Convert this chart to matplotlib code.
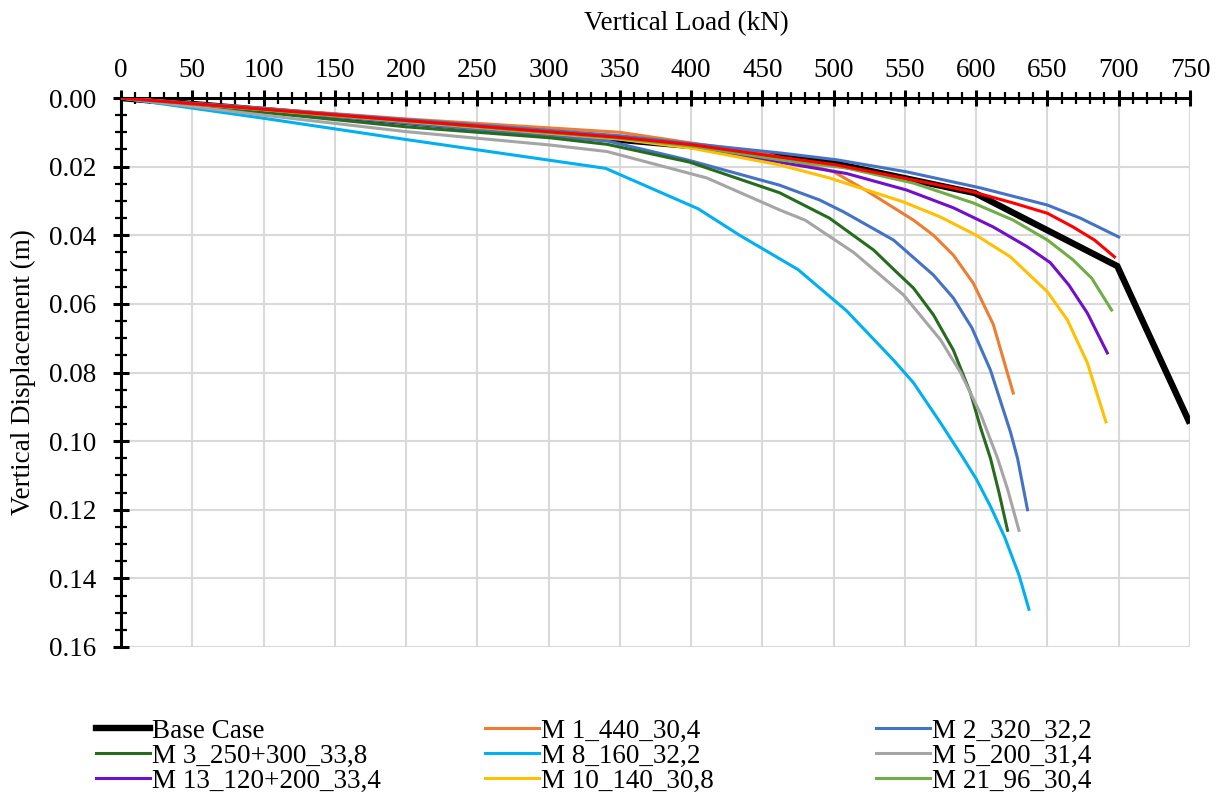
import numpy as np
import matplotlib
matplotlib.use("Agg")
import matplotlib.pyplot as plt
from matplotlib.ticker import MultipleLocator, FormatStrFormatter

plt.rcParams['font.family'] = ['Liberation Serif', 'DejaVu Serif']

# Load (kN) and vertical displacement (m) for each model
base_load = [0, 350, 400, 462, 502, 556, 599, 699, 749]
base_disp = [0, 0.0122, 0.0140, 0.0169, 0.0192, 0.0239, 0.0277, 0.0490, 0.0940]

m1_load = [0, 200, 350, 400, 450, 500, 523, 556, 570, 584, 598, 612, 626]
m1_disp = [0, 0.0061, 0.0100, 0.0131, 0.0160, 0.0215, 0.0270, 0.0356, 0.0400,
           0.0458, 0.0540, 0.0660, 0.0860]

m2_load = [0, 341, 397, 462, 490, 507, 542, 570, 584, 597, 610, 624, 629, 636]
m2_disp = [0, 0.0125, 0.0180, 0.0254, 0.0297, 0.0332, 0.0414, 0.0516, 0.0583,
           0.0670, 0.0793, 0.0973, 0.1050, 0.1200]

m2b_load = [0, 350, 400, 462, 502, 551, 603, 650, 673, 700]
m2b_disp = [0, 0.0110, 0.0133, 0.0160, 0.0180, 0.0215, 0.0262, 0.0312, 0.0350, 0.0405]

m3_load = [0, 200, 301, 341, 399, 462, 497, 528, 544, 556, 570, 584, 596, 603,
           610, 616, 622]
m3_disp = [0, 0.0084, 0.0116, 0.0135, 0.0187, 0.0276, 0.0350, 0.0443, 0.0507,
           0.0554, 0.0632, 0.0735, 0.0860, 0.0960, 0.1050, 0.1150, 0.1260]

m8_load = [0, 100, 200, 340, 405, 434, 475, 509, 542, 556, 575, 591, 600, 610,
           620, 630, 637]
m8_disp = [0, 0.0059, 0.0121, 0.0205, 0.0323, 0.0400, 0.0500, 0.0620, 0.0764,
           0.0830, 0.0947, 0.1050, 0.1110, 0.1190, 0.1280, 0.1390, 0.1490]

m5_load = [0, 100, 200, 301, 341, 411, 462, 480, 514, 549, 575, 589, 603, 615,
           622, 630]
m5_disp = [0, 0.0050, 0.0098, 0.0137, 0.0156, 0.0233, 0.0326, 0.0356, 0.0450,
           0.0574, 0.0705, 0.0800, 0.0920, 0.1050, 0.1140, 0.1260]

m13_load = [0, 350, 400, 462, 509, 551, 584, 612, 636, 652, 665, 678, 692]
m13_disp = [0, 0.0120, 0.0142, 0.0187, 0.0220, 0.0268, 0.0320, 0.0376, 0.0434,
            0.0480, 0.0545, 0.0627, 0.0743]

m10_load = [0, 350, 400, 462, 497, 549, 575, 600, 624, 650, 664, 678, 691]
m10_disp = [0, 0.0120, 0.0146, 0.0195, 0.0233, 0.0303, 0.0347, 0.0400, 0.0463,
            0.0565, 0.0647, 0.0772, 0.0944]

m21_load = [0, 350, 400, 462, 509, 556, 598, 626, 650, 668, 681, 695]
m21_disp = [0, 0.0118, 0.0140, 0.0180, 0.0204, 0.0248, 0.0306, 0.0356, 0.0414,
            0.0472, 0.0525, 0.0618]

red_load = [0, 350, 400, 462, 502, 556, 598, 626, 650, 668, 683, 697]
red_disp = [0, 0.0115, 0.0136, 0.0172, 0.0195, 0.0239, 0.0274, 0.0306, 0.0336,
            0.0376, 0.0414, 0.0463]

x_ticks = list(range(0, 751, 50))
y_ticks = [0.00, 0.02, 0.04, 0.06, 0.08, 0.10, 0.12, 0.14, 0.16]

series = [
    ("Base Case", base_load, base_disp, "#000000", 4.6),
    ("M 1_440_30,4", m1_load, m1_disp, "#ED7D31", 2.2),
    ("M 2_320_32,2", m2_load, m2_disp, "#4472C4", 2.2),
    ("M 3_250+300_33,8", m3_load, m3_disp, "#276B1F", 2.2),
    ("M 8_160_32,2", m8_load, m8_disp, "#00B0F0", 2.2),
    ("M 5_200_31,4", m5_load, m5_disp, "#A5A5A5", 2.2),
    ("M 13_120+200_33,4", m13_load, m13_disp, "#7010C8", 2.2),
    ("M 10_140_30,8", m10_load, m10_disp, "#FFC000", 2.2),
    ("M 21_96_30,4", m21_load, m21_disp, "#70AD47", 2.2),
]
extra = [
    (m2b_load, m2b_disp, "#4472C4", 2.2),
    (red_load, red_disp, "#FF0000", 2.2),
]

fig = plt.figure(figsize=(12.24, 7.96), dpi=100)
ax = fig.add_axes([121 / 1224, 1 - 647 / 796, 1069 / 1224, 549 / 796])

handles = []
for label, xs, ys, col, lw in series:
    h, = ax.plot(xs, ys, color=col, lw=lw, solid_joinstyle='miter', label=label, zorder=3)
    handles.append(h)
for xs, ys, col, lw in extra:
    ax.plot(xs, ys, color=col, lw=lw, zorder=3)

ax.set_xlim(0, 750)
ax.set_ylim(0.16, 0)
ax.set_xticks(x_ticks)
ax.set_yticks(y_ticks)
ax.xaxis.set_minor_locator(MultipleLocator(10))
ax.yaxis.set_minor_locator(MultipleLocator(0.005))
ax.yaxis.set_major_formatter(FormatStrFormatter('%.2f'))
ax.xaxis.tick_top()
ax.xaxis.set_label_position('top')

for side in ('right', 'bottom'):
    ax.spines[side].set_visible(False)
for side in ('top', 'left'):
    ax.spines[side].set_linewidth(2.2)
    ax.spines[side].set_color('black')

ax.tick_params(which='major', direction='inout', length=12, width=2.2,
               labelsize=19.5, color='black')
ax.tick_params(which='minor', direction='inout', length=8, width=1.6, color='black')
ax.tick_params(axis='x', which='major', pad=5)
ax.tick_params(axis='y', which='major', pad=12)

ax.grid(True, which='major', color='#D9D9D9', lw=1.5)
ax.set_axisbelow(True)

ax.set_xlabel('Vertical Load (kN)', fontsize=19.5)
ax.xaxis.set_label_coords((686 - 121) / 1069, 1 + 68 / 549)
ax.set_ylabel('Vertical Displacement (m)', fontsize=19.5)
ax.yaxis.set_label_coords(-(121 - 36) / 1069, 0.5)

# Legend: three equal-width columns below the plot
col_x = [96 / 1224, 485 / 1224, 876 / 1224]
for c in range(3):
    hs = handles[c::3]
    fig.legend(handles=hs, labels=[h.get_label() for h in hs],
               loc='center left', bbox_to_anchor=(col_x[c], 1 - 756 / 796),
               frameon=False, fontsize=19.5, ncol=1, handlelength=2.0,
               handletextpad=0.05, labelspacing=0.0, borderpad=0,
               borderaxespad=0)

fig.savefig('out.png', dpi=100)
